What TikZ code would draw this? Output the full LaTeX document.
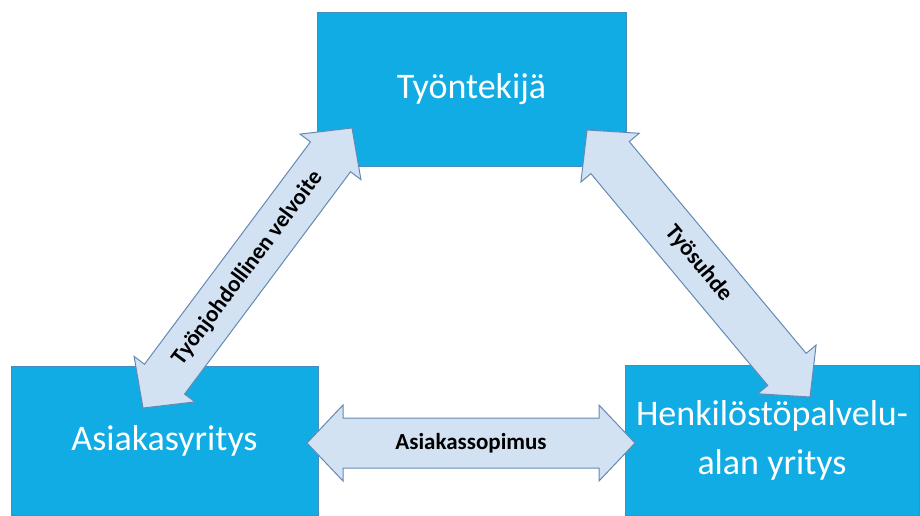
\documentclass[tikz,border=0pt]{standalone}
\usepackage{fontspec}
\setmainfont{Carlito}
\usetikzlibrary{calc}
\definecolor{partyblue}{RGB}{17,172,227}
\definecolor{partyedge}{RGB}{70,140,190}
\definecolor{arrowfill}{RGB}{210,226,242}
\definecolor{arrowedge}{RGB}{100,138,180}
\tikzset{
  party/.style={draw=partyedge, line width=0.6pt, fill=partyblue, text=white,
    align=center, inner sep=0pt, font=\fontsize{36}{49}\selectfont},
  relation/.style={draw=arrowedge, line width=1pt, fill=arrowfill, line join=miter},
  relationtext/.style={font=\bfseries\fontsize{23}{27}\selectfont, text=black, sloped, midway}
}
% double block arrow between two named tips, head 36pt long
\newcommand\relationarrow[3]{%
  \draw[relation] (#1)
    -- ($(#1)!36pt!(#2)!38pt!90:(#2)$) -- ($(#1)!36pt!(#2)!25pt!90:(#2)$)
    -- ($(#2)!36pt!(#1)!25pt!-90:(#1)$) -- ($(#2)!36pt!(#1)!38pt!-90:(#1)$)
    -- (#2)
    -- ($(#2)!36pt!(#1)!38pt!90:(#1)$) -- ($(#2)!36pt!(#1)!25pt!90:(#1)$)
    -- ($(#1)!36pt!(#2)!25pt!-90:(#2)$) -- ($(#1)!36pt!(#2)!38pt!-90:(#2)$)
    -- cycle;
  \path (#1) -- (#2) node[relationtext] {#3};
}

\begin{document}
\begin{tikzpicture}[x=1pt, y=-1pt]
  \useasboundingbox (0,0) rectangle (920,515);
  % the three parties
  \node[party, minimum width=309pt, minimum height=154pt] (worker) at (471.5,89) {Työntekijä};
  \node[party, minimum width=307pt, minimum height=149pt] (client) at (164.5,440.5) {Asiakasyritys};
  \node[party, minimum width=294pt, minimum height=150pt] (agency) at (772,440) {Henkilöstöpalvelu-\\alan yritys};
  % arrow tips
  \coordinate (clientUp) at (143,408);
  \coordinate (workerLeft) at (352,128);
  \coordinate (workerRight) at (587,130);
  \coordinate (agencyUp) at (810,397);
  \coordinate (clientSide) at (307,443);
  \coordinate (agencySide) at (635,443);
  \relationarrow{clientUp}{workerLeft}{Työnjohdollinen velvoite}
  \relationarrow{workerRight}{agencyUp}{Työsuhde}
  \relationarrow{clientSide}{agencySide}{Asiakassopimus}
\end{tikzpicture}
\end{document}
